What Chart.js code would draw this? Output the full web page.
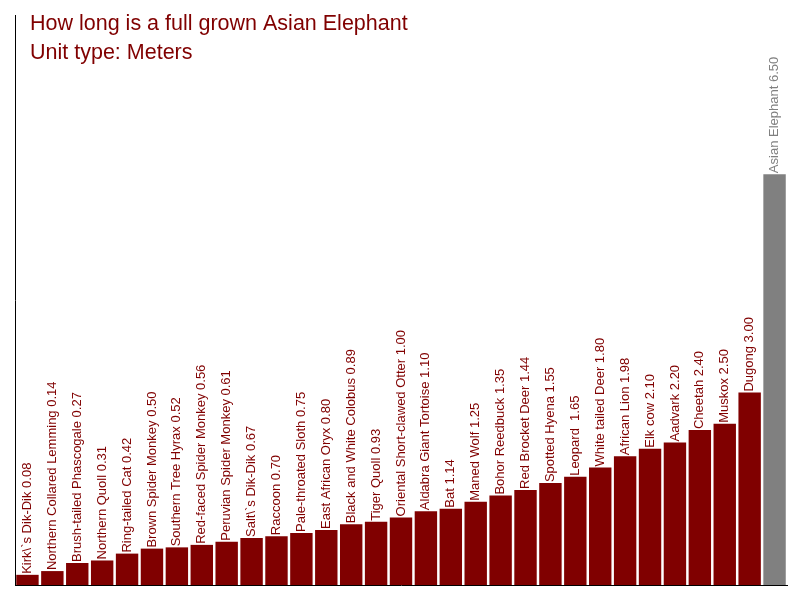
<!DOCTYPE html>
<html>
<head>
<meta charset="utf-8">
<script src="https://cdn.jsdelivr.net/npm/chart.js@4/dist/chart.umd.min.js"></script>
<style>
  html, body { margin: 0; padding: 0; background: #fff; }
  #wrap { width: 800px; height: 600px; }
</style>
</head>
<body>
<div id="wrap"><canvas id="grafico"></canvas></div>
<script>
let animales = [
    "Kirk\\`s Dik-Dik", "Northern Collared Lemming", "Brush-tailed Phascogale", "Northern Quoll",
    "Ring-tailed Cat", "Brown Spider Monkey", "Southern Tree Hyrax", "Red-faced Spider Monkey",
    "Peruvian Spider Monkey", "Salt\\`s Dik-Dik", "Raccoon", "Pale-throated Sloth",
    "East African Oryx", "Black and White Colobus", "Tiger Quoll", "Oriental Short-clawed Otter",
    "Aldabra Giant Tortoise", "Bat", "Maned Wolf", "Bohor Reedbuck", "Red Brocket Deer",
    "Spotted Hyena", "Leopard ", "White tailed Deer", "African Lion", "Elk cow", "Aadvark",
    "Cheetah", "Muskox", "Dugong", "Asian Elephant"
];
let longitudes = [
    0.08, 0.14, 0.27, 0.31, 0.42, 0.50, 0.52, 0.56, 0.61, 0.67, 0.70, 0.75, 0.80, 0.89, 0.93,
    1.00, 1.10, 1.14, 1.25, 1.35, 1.44, 1.55, 1.65, 1.80, 1.98, 2.10, 2.20, 2.40, 2.50, 3.00, 6.50
];
let titulos = ["How long is a full grown Asian Elephant", "Unit type: Meters"];

let rojo = "#800000";
let gris = "#808080";
let colores = animales.map(a => a === "Asian Elephant" ? gris : rojo);
let ejeMin = -0.083;

// etiquetas verticales encima de cada barra
let etiquetasBarras = {
    id: "etiquetasBarras",
    afterDatasetsDraw(chart) {
        let ctx = chart.ctx;
        let meta = chart.getDatasetMeta(0);
        ctx.save();
        ctx.font = "13px 'Liberation Sans', Arial, sans-serif";
        ctx.textAlign = "left";
        ctx.textBaseline = "middle";
        meta.data.forEach(function (bar, i) {
            ctx.save();
            ctx.fillStyle = colores[i];
            ctx.translate(bar.x, bar.y - 1);
            ctx.rotate(-Math.PI / 2);
            ctx.fillText(animales[i] + " " + longitudes[i].toFixed(2), 0, 0);
            ctx.restore();
        });
        ctx.restore();
    }
};

let tituloPlugin = {
    id: "tituloPlugin",
    afterDraw(chart) {
        let ctx = chart.ctx;
        ctx.save();
        ctx.font = "21.5px 'Liberation Sans', Arial, sans-serif";
        ctx.fillStyle = rojo;
        ctx.textAlign = "left";
        ctx.textBaseline = "alphabetic";
        titulos.forEach(function (t, i) {
            ctx.fillText(t, 30, 30 + i * 29);
        });
        ctx.restore();
    }
};

new Chart(document.getElementById("grafico"), {
    type: "bar",
    data: {
        labels: animales,
        datasets: [{
            data: longitudes,
            base: ejeMin,
            backgroundColor: colores,
            barPercentage: 0.9,
            categoryPercentage: 1.0
        }]
    },
    options: {
        responsive: true,
        maintainAspectRatio: false,
        animation: false,
        layout: { padding: { left: 7, right: 13, top: 15, bottom: 7 } },
        scales: {
            x: {
                grid: { display: false },
                border: { display: true, color: "#000", width: 1 },
                ticks: { display: false }
            },
            y: {
                min: ejeMin,
                max: 9.05,
                grid: { display: false },
                border: { display: true, color: "#000", width: 1 },
                ticks: { display: false }
            }
        },
        plugins: {
            legend: { display: false },
            tooltip: { enabled: false }
        }
    },
    plugins: [etiquetasBarras, tituloPlugin]
});
</script>
</body>
</html>
